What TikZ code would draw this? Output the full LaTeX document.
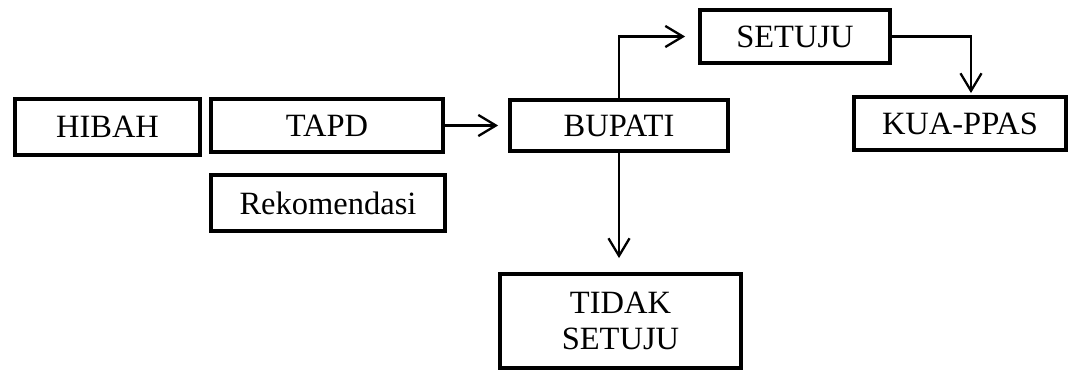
\documentclass[tikz,border=0pt]{standalone}
\usepackage{fontspec}
\setmainfont{Liberation Serif}
\usepackage{tikz}
\usetikzlibrary{arrows.meta}

\begin{document}
\begin{tikzpicture}[x=0.02cm, y=-0.02cm, font=\fontsize{18.5}{20.5}\selectfont,
  kotak/.style={draw, line width=2.2pt, inner sep=0pt, align=center},
  panah/.style={-{Straight Barb[length=10pt, width=12pt]}, line width=1.3pt}]
\useasboundingbox (0,0) rectangle (1080,375);
% kotak
\node[kotak, minimum width=3.7cm, minimum height=1.12cm] (hibah) at (107.5,127) {HIBAH};
\node[kotak, minimum width=4.64cm, minimum height=1.06cm] (tapd) at (327,125.5) {TAPD};
\node[kotak, minimum width=4.68cm, minimum height=1.12cm] (rekom) at (328,203) {Rekomendasi};
\node[kotak, minimum width=4.36cm, minimum height=1.02cm] (bupati) at (619,125.5) {BUPATI};
\node[kotak, minimum width=3.8cm, minimum height=1.06cm] (setuju) at (795,36.5) {SETUJU};
\node[kotak, minimum width=4.24cm, minimum height=1.06cm] (kua) at (960,123.5) {KUA-PPAS};
\node[kotak, minimum width=4.82cm, minimum height=1.88cm] (tidak) at (620.5,321) {TIDAK\\SETUJU};
% panah
\draw[panah, shorten >=0.2cm] (tapd) -- (bupati);
\draw[panah, shorten >=0.26cm] (bupati.north) |- (setuju.west);
\draw[panah, shorten >=0.04cm] (setuju.east) -| ([xshift=0.22cm]kua.north);
\draw[panah, shorten >=0.28cm] (bupati.south) -- (bupati.south |- tidak.north);
\end{tikzpicture}
\end{document}
